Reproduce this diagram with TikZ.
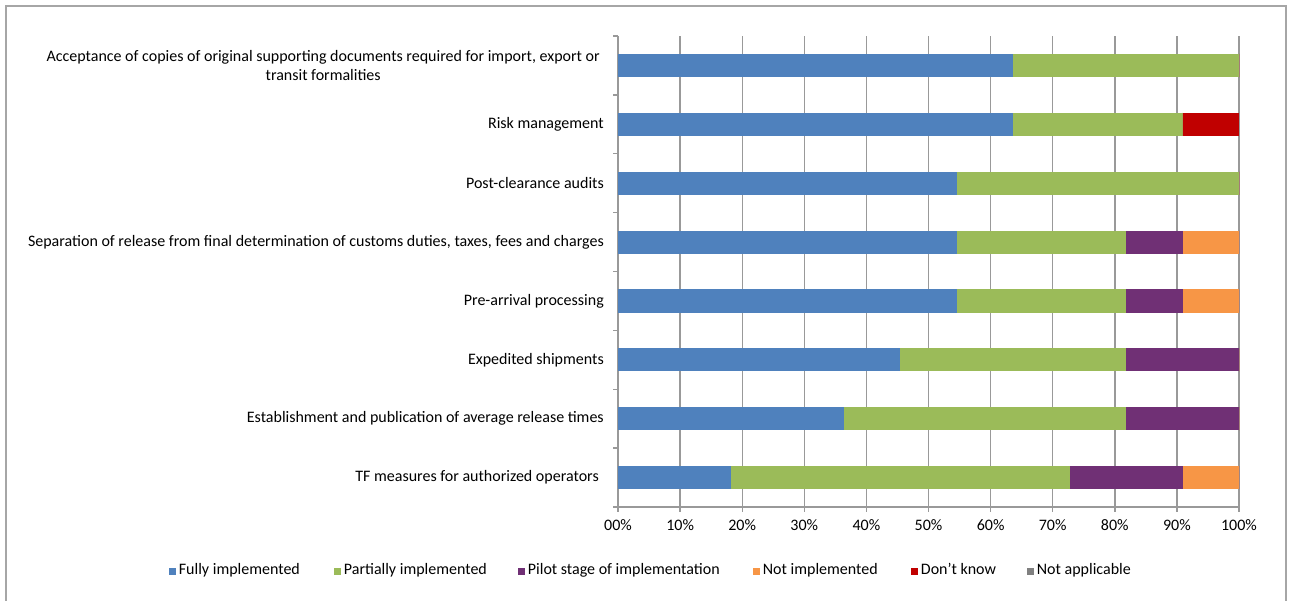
\documentclass[tikz,border=0pt]{standalone}
\usepackage{fontspec}
\setmainfont{Carlito}
\usetikzlibrary{positioning}

\definecolor{cfully}{HTML}{4F81BD}
\definecolor{cpartial}{HTML}{9BBB59}
\definecolor{cpilot}{HTML}{703075}
\definecolor{cnotimpl}{HTML}{F79646}
\definecolor{cdunno}{HTML}{C00000}
\definecolor{cna}{HTML}{808080}

\tikzset{
    label/.style={anchor=east, inner sep=0pt, align=center, font=\fontsize{16}{19.5}\selectfont},
    ticklab/.style={inner sep=0pt, font=\fontsize{16}{19}\selectfont},
    key/.style={minimum size=7pt, inner sep=0pt},
    keytext/.style={right=3pt of #1, inner sep=0pt, text height=11pt, text depth=3.5pt,
        font=\fontsize{16}{19}\selectfont},
    grid/.style={draw=gray!80, line width=1.4pt}
}

\begin{document}
\begin{tikzpicture}[x=1pt, y=-1pt]

    \useasboundingbox (0,0) rectangle (1293,600);
    \draw[gray!70, line width=1.4pt] (6,602) -- (6,6) -- (1286,6) -- (1286,602);

    % gridlines and percentage ticks
    \foreach \i in {0,...,10} {
        \draw[grid] ({618+62.1*\i},36) -- ({618+62.1*\i},512);
        \node[ticklab] (t\i) at ({618+62.1*\i},525) {\i0\%};
    }
    \draw[grid] (618,507) -- (1239,507);
    \foreach \k in {0,...,8}
        \draw[grid] (613,{36+58.875*\k}) -- (618,{36+58.875*\k});

    % stacked bars, counts out of 11
    \foreach \k/\a/\b/\c/\d/\e in {0/7/4/0/0/0, 1/7/3/0/0/1, 2/6/5/0/0/0, 3/6/3/1/1/0,
                                   4/6/3/1/1/0, 5/5/4/2/0/0, 6/4/5/2/0/0, 7/2/6/2/1/0} {
        \pgfmathsetmacro\yt{36+58.875*\k+17.9}
        \pgfmathsetmacro\yb{36+58.875*\k+41}
        \fill[cfully]   (618,\yt) rectangle ({618+56.4545*\a},\yb);
        \fill[cpartial] ({618+56.4545*\a},\yt) rectangle ({618+56.4545*(\a+\b)},\yb);
        \fill[cpilot]   ({618+56.4545*(\a+\b)},\yt) rectangle ({618+56.4545*(\a+\b+\c)},\yb);
        \fill[cnotimpl] ({618+56.4545*(\a+\b+\c)},\yt) rectangle ({618+56.4545*(\a+\b+\c+\d)},\yb);
        \fill[cdunno]   ({618+56.4545*(\a+\b+\c+\d)},\yt) rectangle ({618+56.4545*(\a+\b+\c+\d+\e)},\yb);
    }

    % category labels
    \node[label] (lab1) at (600,65.4)  {Acceptance of copies of original supporting documents required for import, export or\\transit formalities};
    \node[label] (lab2) at (604,124.3) {Risk management};
    \node[label] (lab3) at (604,183.2) {Post-clearance audits};
    \node[label] (lab4) at (604,242.1) {Separation of release from final determination of customs duties, taxes, fees and charges};
    \node[label] (lab5) at (604,300.9) {Pre-arrival processing};
    \node[label] (lab6) at (604,359.8) {Expedited shipments};
    \node[label] (lab7) at (604,418.7) {Establishment and publication of average release times};
    \node[label] (lab8) at (604,477.6) {TF measures for authorized operators\hspace{5pt}};

    % legend
    \node[key, fill=cfully]   (k1) at (172,571)  {};
    \node[keytext=k1] (l1) {Fully implemented};
    \node[key, fill=cpartial] (k2) at (337,571)  {};
    \node[keytext=k2] (l2) {Partially implemented};
    \node[key, fill=cpilot]   (k3) at (521,571)  {};
    \node[keytext=k3] (l3) {Pilot stage of implementation};
    \node[key, fill=cnotimpl] (k4) at (756,571)  {};
    \node[keytext=k4] (l4) {Not implemented};
    \node[key, fill=cdunno]   (k5) at (914,571)  {};
    \node[keytext=k5] (l5) {Don't know};
    \node[key, fill=cna]      (k6) at (1030,571) {};
    \node[keytext=k6] (l6) {Not applicable};

\end{tikzpicture}
\end{document}
